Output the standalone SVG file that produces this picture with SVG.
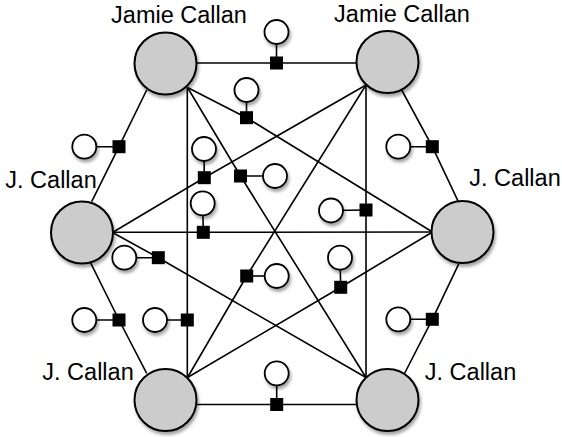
<svg xmlns="http://www.w3.org/2000/svg" width="562" height="437" viewBox="0 0 562 437">
<defs>
<filter id="sh" x="-30%" y="-30%" width="170%" height="170%">
<feDropShadow dx="1.5" dy="3" stdDeviation="1.8" flood-color="#000" flood-opacity="0.35"/>
</filter>
<style>
.edge{fill:none;stroke:#000;stroke-width:1.6;stroke-linejoin:miter}
.link{stroke:#000;stroke-width:1.6}
.big{fill:#cccccc;stroke:#000;stroke-width:2;filter:url(#sh)}
.var{fill:#fff;stroke:#000;stroke-width:1.8;filter:url(#sh)}
.fac{fill:#000}
.lbl{font-family:"Liberation Sans","Open Sans",sans-serif;font-size:23.5px;fill:#000;text-anchor:middle}
</style>
</defs>
<rect width="562" height="437" fill="#fff"/>
<g id="connectors">
<polyline class="edge" points="196.5,63 276.5,63 356.5,63"/>
<polyline class="edge" points="146.7,90 119,146.7 91.7,201.7"/>
<polyline class="edge" points="187.5,87.5 246.5,117.7 432.5,232"/>
<polyline class="edge" points="187.5,87.5 240.5,176 366,377.5"/>
<polyline class="edge" points="366,85 204.3,177.7 112.5,232.5"/>
<polyline class="edge" points="112.5,232.3 203.3,232.3 432.5,232"/>
<polyline class="edge" points="112.5,232.5 158.3,257.7 366,377.5"/>
<polyline class="edge" points="187.3,87.5 187.3,320 187.3,377.5"/>
<polyline class="edge" points="90,261.7 119,320 146.7,373.3"/>
<polyline class="edge" points="366,85 246.7,276 187.5,377.5"/>
<polyline class="edge" points="196.5,404.5 276.7,404.5 357,404.5"/>
<polyline class="edge" points="432.5,232 340.7,287.3 187.5,377.5"/>
<polyline class="edge" points="366,85 366,210 366,377.5"/>
<polyline class="edge" points="401.7,90 432.3,146.7 458.3,201.7"/>
<polyline class="edge" points="459,263.3 432.3,319.3 404.5,373.5"/>
</g>
<g id="factors">
<g id="f1"><line class="link" x1="276.5" y1="63" x2="276.5" y2="32"/><circle class="var" cx="276.5" cy="32" r="12"/><rect class="fac" x="270" y="56.5" width="13" height="13"/></g>
<g id="f2"><line class="link" x1="119" y1="146.7" x2="84.3" y2="146.7"/><circle class="var" cx="84.3" cy="146.7" r="12"/><rect class="fac" x="112.5" y="140.2" width="13" height="13"/></g>
<g id="f3"><line class="link" x1="246.5" y1="117.7" x2="246.5" y2="90"/><circle class="var" cx="246.5" cy="90" r="12"/><rect class="fac" x="240" y="111.2" width="13" height="13"/></g>
<g id="f4"><line class="link" x1="240.5" y1="176" x2="275" y2="176"/><circle class="var" cx="275" cy="176" r="12"/><rect class="fac" x="234" y="169.5" width="13" height="13"/></g>
<g id="f5"><line class="link" x1="204.3" y1="177.7" x2="204" y2="149"/><circle class="var" cx="204" cy="149" r="12"/><rect class="fac" x="197.8" y="171.2" width="13" height="13"/></g>
<g id="f6"><line class="link" x1="203.3" y1="232.3" x2="202.7" y2="203.3"/><circle class="var" cx="202.7" cy="203.3" r="12"/><rect class="fac" x="196.8" y="225.8" width="13" height="13"/></g>
<g id="f7"><line class="link" x1="158.3" y1="257.7" x2="124.3" y2="257.7"/><circle class="var" cx="124.3" cy="257.7" r="12"/><rect class="fac" x="151.8" y="251.2" width="13" height="13"/></g>
<g id="f8"><line class="link" x1="187.3" y1="320" x2="155" y2="320"/><circle class="var" cx="155" cy="320" r="12"/><rect class="fac" x="180.8" y="313.5" width="13" height="13"/></g>
<g id="f9"><line class="link" x1="119" y1="320" x2="84.3" y2="320"/><circle class="var" cx="84.3" cy="320" r="12"/><rect class="fac" x="112.5" y="313.5" width="13" height="13"/></g>
<g id="f10"><line class="link" x1="246.7" y1="276" x2="276.7" y2="276"/><circle class="var" cx="276.7" cy="276" r="12"/><rect class="fac" x="240.2" y="269.5" width="13" height="13"/></g>
<g id="f11"><line class="link" x1="276.7" y1="404.5" x2="276.7" y2="373.3"/><circle class="var" cx="276.7" cy="373.3" r="12"/><rect class="fac" x="270.2" y="398" width="13" height="13"/></g>
<g id="f12"><line class="link" x1="340.7" y1="287.3" x2="340" y2="257.7"/><circle class="var" cx="340" cy="257.7" r="12"/><rect class="fac" x="334.2" y="280.8" width="13" height="13"/></g>
<g id="f13"><line class="link" x1="366" y1="210" x2="331" y2="210.5"/><circle class="var" cx="331" cy="210.5" r="12"/><rect class="fac" x="359.5" y="203.5" width="13" height="13"/></g>
<g id="f14"><line class="link" x1="432.3" y1="146.7" x2="398.3" y2="146.7"/><circle class="var" cx="398.3" cy="146.7" r="12"/><rect class="fac" x="425.8" y="140.2" width="13" height="13"/></g>
<g id="f15"><line class="link" x1="432.3" y1="319.3" x2="398.3" y2="319.3"/><circle class="var" cx="398.3" cy="319.3" r="12"/><rect class="fac" x="425.8" y="312.8" width="13" height="13"/></g>
</g>
<g id="node-tl"><circle class="big" cx="165.5" cy="63.5" r="31"/><text class="lbl" x="179" y="22.5">Jamie Callan</text></g>
<g id="node-tr"><circle class="big" cx="387.5" cy="62" r="31"/><text class="lbl" x="402" y="21.8">Jamie Callan</text></g>
<g id="node-l"><circle class="big" cx="82" cy="232.5" r="31"/><text class="lbl" x="51" y="188">J. Callan</text></g>
<g id="node-r"><circle class="big" cx="462.5" cy="232" r="31"/><text class="lbl" x="515" y="186">J. Callan</text></g>
<g id="node-bl"><circle class="big" cx="165.5" cy="400" r="31"/><text class="lbl" x="88" y="380">J. Callan</text></g>
<g id="node-br"><circle class="big" cx="387.5" cy="400" r="31"/><text class="lbl" x="470.5" y="380">J. Callan</text></g>
</svg>
